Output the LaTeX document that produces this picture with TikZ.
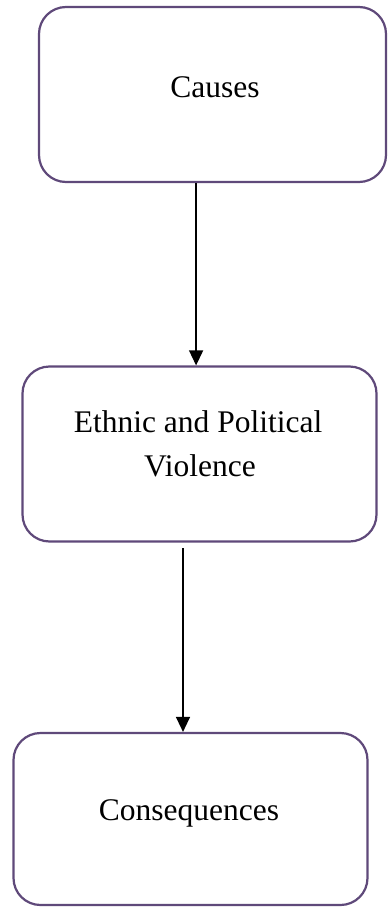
\documentclass[tikz,border=0pt]{standalone}
\usepackage{fontspec}
\setmainfont{Liberation Serif}
\usetikzlibrary{arrows.meta,calc}
\definecolor{boxpurple}{HTML}{5F497A}
\tikzset{
  flowbox/.style={draw=boxpurple, line width=2.2pt, rounded corners=27pt, rectangle, inner sep=0pt, fill=white},
  boxtext/.style={font=\fontsize{31.5}{44}\selectfont, align=center, inner sep=0pt, anchor=base},
  flowarrow/.style={line width=1.3pt, -{Triangle[length=15pt,width=14pt]}}
}
\begin{document}
\begin{tikzpicture}[x=1pt,y=-1pt]
\useasboundingbox (0,0) rectangle (388,907);
\node[flowbox, minimum width=347pt, minimum height=175pt] (b1) at (212.5,94.5) {};
\node[flowbox, minimum width=354pt, minimum height=175pt] (b2) at (199.5,454) {};
\node[flowbox, minimum width=354pt, minimum height=172pt] (b3) at (190.5,819) {};
\node[boxtext] (t1) at (215,97) {Causes};
\node[boxtext] (t2a) at (198,432) {Ethnic and Political};
\node[boxtext] (t2b) at (200,476) {Violence};
\node[boxtext] (t3) at (189,820) {Consequences};
\coordinate (s1) at ($(b1.south west)!0.453!(b1.south east)$);
\coordinate (s2) at (183,548);
\draw[flowarrow] (s1) -- (s1 |- b2.north);
\draw[flowarrow] (s2) -- (s2 |- b3.north);
\end{tikzpicture}
\end{document}
